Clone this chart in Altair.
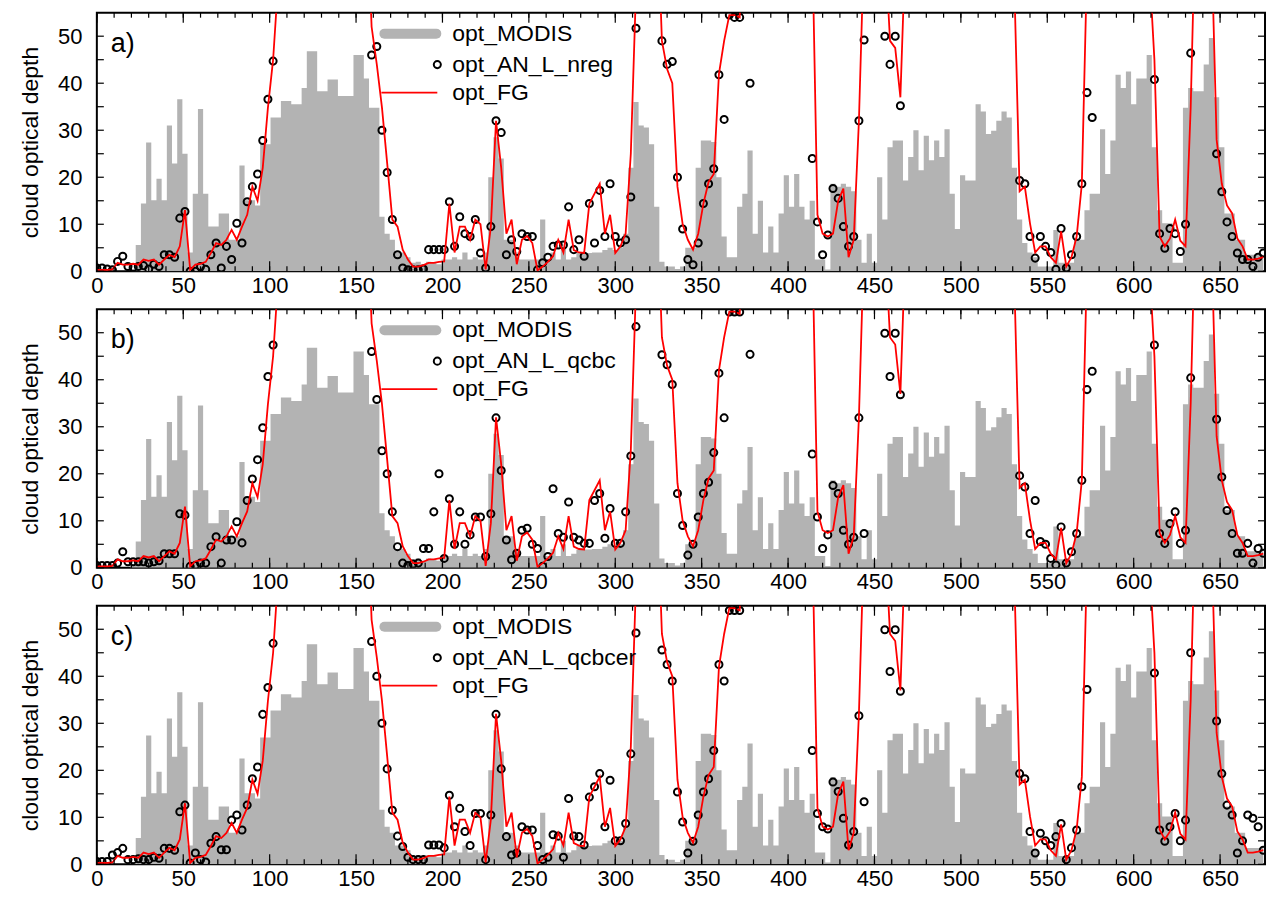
import altair as alt
import pandas as pd

# Samples are spaced every X_STEP units along the track (x = 0, 3, 6, ..., 675)
X_STEP = 3

opt_modis = [
    0, 0, 0, 0, 0, 0, 0, 0.5, 5.6, 14.4,
    27.4, 15.1, 19.7, 15.1, 31, 22.9, 36.6, 25, 4, 16.5,
    34.5, 16.5, 9.5, 9.5, 12.3, 12.3, 6.7, 6.7, 22.5, 15.1,
    15.1, 14, 27, 27, 32.7, 32.7, 36.2, 36.2, 35.5, 35.5,
    39, 46.8, 46.8, 38.3, 38.3, 40.8, 40.8, 37.3, 37.3, 37.3,
    46, 46, 41, 34.8, 34.8, 11.6, 8, 6.7, 4, 4,
    3, 1.8, 2, 1.5, 2, 1.8, 1.5, 2.5, 2.5, 3,
    2.5, 4, 2.5, 3, 2.5, 4, 20, 28.5, 24, 6.7,
    6.7, 4, 2.5, 2.5, 2.5, 2.5, 11, 2.5, 4, 2.5,
    5, 2.5, 3, 3.9, 3.9, 3.9, 4, 4, 4.5, 5,
    4.5, 5, 8, 22, 36, 31, 30.6, 27, 13.7, 2,
    1, 1, 0.5, 1, 5, 5, 22, 27.8, 27.8, 27.5,
    20, 7.4, 3, 3, 13.7, 16.5, 25.7, 8, 15, 4,
    9.5, 4, 12.3, 20.4, 13.7, 20.7, 13.7, 11, 15, 2.5,
    2.5, 0.4, 18.6, 18, 18.6, 18, 17, 6.7, 1.8, 8,
    1.8, 20, 11, 26.4, 27.8, 27.8, 19.3, 24.3, 30, 21.5,
    28.8, 23.6, 27.8, 24.3, 30.2, 16.5, 9, 20.4, 19.3, 19.3,
    35.5, 34, 29.2, 29.9, 32, 34, 32.7, 22, 11, 6,
    4, 3, 1, 1, 1, 8.8, 1.8, 1.8, 1.8, 6.7,
    6.7, 13, 16.5, 16.5, 30.2, 20.7, 27.8, 41.8, 39, 42.5,
    35.5, 41, 41, 46, 26.4, 13, 10.2, 10.2, 1.8, 1.8,
    34.8, 39, 38.3, 38.3, 44, 49.6, 37, 26.4, 12.3, 12.3,
    6.7, 6.7, 3.5, 3.5, 3.5, 3.5,
]

opt_fg = [
    0.3, 0.3, 0.3, 0.4, 1.8, 1.4, 1.4, 1.6, 1.4, 2.5,
    2.2, 2.5, 1.4, 2.5, 3.5, 3.0, 5.3, 13, 0.3, 1.4,
    1.6, 2.0, 3.9, 6.0, 5.6, 6.7, 8.8, 6.7, 9.5, 12,
    18, 15, 22, 34.8, 45, 62, 90, 90, 90, 90,
    90, 90, 90, 90, 90, 90, 90, 90, 90, 90,
    90, 90, 80, 52, 44, 34.8, 23, 11, 9.5, 4.6,
    2.5, 1.0, 1.0, 1.3, 1.8, 1.8, 2.0, 2.1, 14.4, 4.0,
    9.5, 9.5, 6.7, 11, 10, 0.4, 9.5, 32, 22, 8,
    11, 1.5, 6.7, 7.5, 6.0, 0.2, 1.0, 2.0, 3.2, 6.7,
    4.0, 11, 4.5, 4.0, 3.9, 14.4, 16.5, 18.6, 8.0, 12,
    3.9, 5.3, 8, 25, 60, 80, 80, 80, 80, 49,
    43, 40, 18, 10, 6.7, 4.6, 8, 14.4, 19, 20.7,
    42, 49, 54.5, 54.5, 54, 80, 80, 80, 80, 80,
    80, 80, 80, 80, 80, 80, 80, 80, 70, 12,
    8, 7.4, 8, 15, 17.6, 3, 6.7, 32, 70, 70,
    70, 70, 70, 49, 47.5, 37, 70, 70, 70, 70,
    70, 70, 70, 70, 70, 70, 70, 70, 70, 70,
    70, 70, 70, 70, 70, 70, 70, 60, 17, 18,
    10.2, 4, 5.3, 5.3, 3, 1.8, 8.5, 1, 3, 7.4,
    18.6, 65, 65, 65, 65, 65, 65, 65, 65, 65,
    65, 65, 65, 65, 45, 7.4, 5.3, 7, 11, 6.5,
    5.3, 35, 80, 80, 80, 70, 28, 18.6, 14, 12.3,
    7, 5.3, 2.5, 2.5, 2.7, 3,
]

opt_an_nreg = [
    0.7, 0.7, 0.5, 0.3, 2.1, 3.2, 1.0, 0.8, 1.0, 1.2,
    0.5, 1.5, 1.0, 3.5, 3.5, 3.0, 11.3, 12.7, 0.0, 0.0,
    1.0, 0.4, 3.5, 6.0, 0.7, 5.3, 2.5, 10.2, 6.0, 14.8,
    18, 20.7, 27.8, 36.6, 44.7, 70, 70, 70, 70, 70,
    70, 70, 70, 70, 70, 70, 70, 70, 70, 70,
    70, 70, 70, 46, 47.8, 30, 21, 11, 3.5, 0.7,
    0.3, 0.3, 0.3, 0.5, 4.6, 4.6, 4.6, 4.6, 14.8, 5.3,
    11.6, 8, 7.4, 11, 3.9, 0.7, 9.5, 32, 29.5, 3.5,
    6.7, 4.2, 8, 7.4, 7.4, 0.3, 1.8, 3.0, 5.3, 5.6,
    5.6, 13.7, 4.6, 6.7, 3.2, 14.4, 6.0, 17.2, 7.4, 18.6,
    7.4, 6.0, 6.7, 15.8, 51.7, 70, 70, 70, 70, 49,
    44, 44.6, 20, 9, 2.5, 1.4, 6, 14.4, 18.6, 21.8,
    41.8, 32.3, 54.5, 54, 54, 70, 40, 70, 70, 70,
    70, 70, 70, 70, 70, 70, 70, 70, 24, 10.5,
    3.5, 7.7, 17.6, 15.5, 9.5, 5.3, 7.4, 32, 49.2, 70,
    70, 70, 50, 44, 50, 35.2, 70, 70, 70, 70,
    70, 70, 70, 70, 70, 70, 70, 70, 70, 70,
    70, 70, 70, 70, 70, 70, 70, 70, 19.3, 18.6,
    7.4, 2.8, 7.4, 5.3, 4, 0.4, 9.1, 0.7, 3.5, 7.4,
    18.6, 38, 32.7, 70, 70, 70, 70, 70, 70, 70,
    70, 70, 70, 70, 40.8, 8, 4.9, 9.1, 8, 4.2,
    10, 46.4, 70, 70, 70, 70, 25, 16.9, 10.5, 7.4,
    3.9, 2.5, 2.5, 1.0, 3.0, 3.9,
]

opt_an_qcbc = [
    0.5, 0.5, 0.5, 0.5, 1.0, 3.4, 1.3, 1.3, 1.3, 1.3,
    1.0, 1.3, 1.5, 3.0, 3.0, 3.0, 11.5, 11.2, 0.3, 0.5,
    1.0, 1.0, 4.5, 6.6, 1.0, 5.9, 5.9, 9.8, 5.3, 14.3,
    18.9, 23, 29.8, 40.7, 47.4, 70, 70, 70, 70, 70,
    70, 70, 70, 70, 70, 70, 70, 70, 70, 70,
    70, 70, 70, 46, 35.8, 24.9, 20, 11.9, 4.5, 1.0,
    0.5, 0.8, 1.0, 4.1, 4.1, 11.9, 20, 2.0, 14.7, 5.0,
    11.9, 5.0, 7.0, 10.8, 10.8, 2.4, 11.5, 31.9, 20.7, 5.9,
    1.7, 3.1, 8.0, 8.4, 5.0, 4.1, 0.3, 2.4, 16.8, 7.3,
    6.5, 14, 6.5, 5.9, 5.2, 5.2, 14.3, 15.8, 6.3, 12.6,
    5.2, 5.2, 11.9, 23.8, 51.3, 70, 70, 70, 70, 45.3,
    43.2, 39, 15.8, 9, 2.7, 5.0, 10.8, 15.8, 18.2, 24.5,
    41.4, 31.9, 54.4, 54.4, 54.4, 70, 45.4, 70, 70, 70,
    70, 70, 70, 70, 70, 70, 70, 70, 24.2, 10.8,
    4.1, 7.0, 17.5, 15.8, 8.0, 5.0, 6.5, 31.9, 7.3, 70,
    70, 70, 49.9, 40.7, 49.9, 36.8, 70, 70, 70, 70,
    70, 70, 70, 70, 70, 70, 70, 70, 70, 70,
    70, 70, 70, 70, 70, 70, 70, 70, 19.6, 17.2,
    7.3, 14.3, 5.6, 5.0, 2.0, 0.6, 8.7, 1.0, 3.4, 7.3,
    18.6, 37.9, 41.8, 70, 70, 70, 70, 70, 70, 70,
    70, 70, 70, 70, 47.4, 7.3, 5.2, 9.4, 11.9, 5.2,
    8.0, 40.4, 70, 70, 70, 70, 31.6, 19.3, 12.2, 7.3,
    3.1, 3.1, 5.2, 1.0, 4.1, 3.1,
]

opt_an_qcbcer = [
    0.6, 0.6, 0.6, 2.0, 2.5, 3.4, 1.0, 1.0, 1.2, 1.0,
    1.0, 1.5, 1.3, 3.4, 3.4, 3.0, 11.2, 12.6, 0.3, 2.4,
    1.0, 0.5, 4.5, 5.9, 3.1, 3.1, 9.4, 10.5, 7.3, 12.6,
    18.2, 20.7, 31.9, 37.6, 47, 70, 70, 70, 70, 70,
    70, 70, 70, 70, 70, 70, 70, 70, 70, 70,
    70, 70, 70, 47.4, 40, 30, 20.3, 11.5, 6.0, 3.8,
    1.5, 1.0, 1.0, 1.0, 4.1, 4.1, 4.1, 3.5, 14.7, 8.0,
    11.9, 7.0, 4.0, 10.8, 10.8, 1.0, 10.5, 31.9, 20.3, 5.9,
    2.0, 2.4, 8.0, 7.3, 7.3, 4.0, 1.0, 1.5, 6.3, 6.0,
    1.5, 14, 6.0, 5.9, 4.1, 14.3, 16.5, 19.3, 8.0, 17.9,
    5.0, 5.0, 8.7, 23.5, 49.2, 70, 70, 70, 70, 45.6,
    42.5, 39, 15.4, 9, 2.4, 4.9, 10.5, 15.4, 18.2, 24.2,
    42.5, 39, 54, 54, 54, 70, 70, 70, 70, 70,
    70, 70, 70, 70, 70, 70, 70, 70, 24.2, 10.8,
    8.0, 7.5, 17.5, 15.5, 9.8, 4.1, 7.0, 31.6, 13.3, 70,
    70, 70, 49.9, 41, 49.9, 36.8, 70, 70, 70, 70,
    70, 70, 70, 70, 70, 70, 70, 70, 70, 70,
    70, 70, 70, 70, 70, 70, 70, 70, 19.3, 18.2,
    7.0, 2.4, 6.6, 5.0, 4.0, 5.9, 8.7, 1.0, 3.5, 7.3,
    16.5, 37.2, 70, 70, 70, 70, 70, 70, 70, 70,
    70, 70, 70, 70, 40.7, 7.3, 4.9, 8.0, 10.8, 5.0,
    9.4, 45, 70, 70, 70, 70, 30.5, 19.3, 12.6, 10.5,
    2.4, 5.0, 10.5, 9.8, 8.0, 3.0,
]

x_label_values = [0, 50, 100, 150, 200, 250, 300, 350, 400, 450, 500, 550, 600, 650]
x_minor_ticks = list(range(0, 680, 10))
y_label_values = [0, 10, 20, 30, 40, 50]
y_minor_ticks = list(range(0, 55, 5))

W, H = 1170, 259
X_MAX, Y_MAX = 676, 55
GRAY = "#b3b3b3"
FONT = "Liberation Sans"

xs = [X_STEP * i for i in range(len(opt_modis))]

x_scale = alt.Scale(domain=[0, X_MAX], nice=False, zero=False)
y_scale = alt.Scale(domain=[0, Y_MAX], nice=False, zero=False)

x_axis = alt.Axis(values=x_label_values, ticks=False, grid=False, domain=False,
                  labelFontSize=22, labelFont=FONT, labelColor="black",
                  labelPadding=4, labelFlush=False, title=None)
y_axis = alt.Axis(values=y_label_values, ticks=False, grid=False, domain=False,
                  labelFontSize=22, labelFont=FONT, labelColor="black",
                  labelPadding=15, title="cloud optical depth", titleFontSize=23,
                  titleFont=FONT, titleFontWeight="normal", titleColor="black",
                  titlePadding=15)

one_row = pd.DataFrame({"k": [0]})


def X(field):
    return alt.X(field, scale=x_scale, axis=x_axis)


def Y(field):
    return alt.Y(field, scale=y_scale, axis=y_axis)


def tick_layers():
    xt = pd.DataFrame({"t": x_minor_ticks})
    xm = pd.DataFrame({"t": x_label_values})
    yt = pd.DataFrame({"t": y_minor_ticks})
    rule = dict(color="black", strokeWidth=1.2)
    layers = []
    for df, length in ((xt, 5), (xm, 10)):
        layers.append(alt.Chart(df).mark_rule(**rule).encode(
            x=X("t:Q"), y=alt.value(H), y2=alt.value(H - length)))
        layers.append(alt.Chart(df).mark_rule(**rule).encode(
            x=X("t:Q"), y=alt.value(0), y2=alt.value(length)))
    layers.append(alt.Chart(yt).mark_rule(**rule).encode(
        y=Y("t:Q"), x=alt.value(0), x2=alt.value(7)))
    layers.append(alt.Chart(yt).mark_rule(**rule).encode(
        y=Y("t:Q"), x=alt.value(W), x2=alt.value(W - 7)))
    return layers


def legend_layers(an_name):
    src = alt.Chart(one_row)
    text = dict(align="left", baseline="middle", fontSize=23, font=FONT, color="black")
    return [
        src.mark_rule(color=GRAY, strokeWidth=10, strokeCap="round").encode(
            x=alt.value(288), x2=alt.value(340), y=alt.value(21)),
        src.mark_point(shape="circle", filled=False, color="black", size=50,
                       strokeWidth=2, opacity=1).encode(
            x=alt.value(341), y=alt.value(52)),
        src.mark_rule(color="red", strokeWidth=1.8).encode(
            x=alt.value(285), x2=alt.value(341), y=alt.value(80)),
        src.mark_text(**text).encode(x=alt.value(356), y=alt.value(21),
                                      text=alt.value("opt_MODIS")),
        src.mark_text(**text).encode(x=alt.value(356), y=alt.value(52),
                                      text=alt.value(an_name)),
        src.mark_text(**text).encode(x=alt.value(356), y=alt.value(80),
                                      text=alt.value("opt_FG")),
    ]


def panel(an_values, an_name, tag):
    df = pd.DataFrame({"x": xs, "modis": opt_modis, "fg": opt_fg, "an": an_values})
    base = alt.Chart(df)

    modis_area = base.mark_area(color=GRAY, interpolate="step", clip=True).encode(
        x=X("x:Q"), y=Y("modis:Q"),
    )

    points = base.transform_filter("datum.an <= 56").mark_point(
        shape="circle", filled=False, color="black", size=50, strokeWidth=2,
        opacity=1, clip=True
    ).encode(x=X("x:Q"), y=Y("an:Q"))

    line = base.mark_line(color="red", strokeWidth=1.8, clip=True).encode(
        x=X("x:Q"), y=Y("fg:Q"),
    )

    label = alt.Chart(one_row).mark_text(
        align="left", baseline="alphabetic", fontSize=27, font=FONT, color="black"
    ).encode(x=alt.value(14), y=alt.value(39), text=alt.value(tag))

    return alt.layer(modis_area, points, line, *tick_layers(),
                     *legend_layers(an_name), label).properties(width=W, height=H)


chart = alt.vconcat(
    panel(opt_an_nreg, "opt_AN_L_nreg", "a)"),
    panel(opt_an_qcbc, "opt_AN_L_qcbc", "b)"),
    panel(opt_an_qcbcer, "opt_AN_L_qcbcer", "c)"),
    spacing=10,
).properties(
    padding={"left": 18, "top": 10, "right": 5, "bottom": 5},
    background="white",
).configure_view(stroke="black", strokeWidth=2)

chart.save("out.html", embed_options={"renderer": "svg", "actions": False})
